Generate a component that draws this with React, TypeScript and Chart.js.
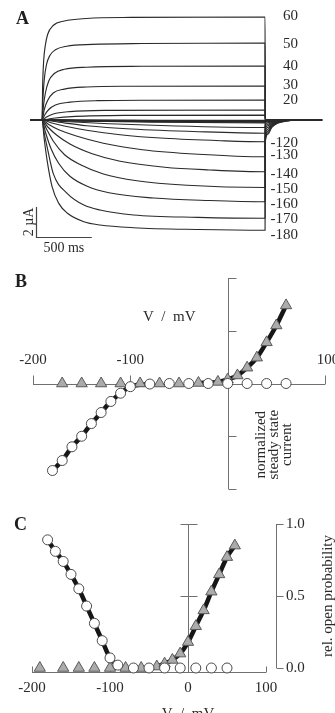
import React, { useEffect, useRef } from "react";
import { Chart, registerables } from "chart.js";

Chart.register(...registerables);

const SERIF = '"Liberation Serif", "Times New Roman", serif';
const INK = "#2a2a2a";
const AXIS = "#707070";

// ---------------- Panel A : current traces (time ms, current µA) ----------------
const tP60 = [[0, 0], [6, 2.5], [15, 4.0], [30, 5.0], [50, 5.7], [100, 6.3], [200, 6.6], [400, 6.77], [800, 6.84], [2000, 6.87]];
const tP50 = [[0, 0], [8, 1.4], [20, 2.7], [40, 3.7], [70, 4.3], [120, 4.68], [220, 4.92], [450, 5.04], [900, 5.1], [2000, 5.13]];
const tP40 = [[0, 0], [12, 0.9], [30, 1.8], [60, 2.6], [110, 3.1], [200, 3.38], [400, 3.52], [900, 3.58], [2000, 3.6]];
const tP30 = [[0, 0], [20, 0.7], [50, 1.3], [100, 1.8], [200, 2.06], [400, 2.2], [800, 2.25], [2000, 2.27]];
const tP20 = [[0, 0], [25, 0.35], [60, 0.7], [120, 1.0], [250, 1.19], [500, 1.29], [1000, 1.32], [2000, 1.33]];
const tP10 = [[0, 0], [40, 0.2], [100, 0.4], [250, 0.56], [600, 0.64], [2000, 0.67]];
const tP0 = [[0, 0], [100, 0.12], [300, 0.24], [800, 0.31], [2000, 0.33]];
const tM10 = [[0, 0], [400, -0.01], [1000, -0.015], [2000, -0.02]];
const tM20 = [[0, 0], [400, -0.02], [1000, -0.03], [2000, -0.04]];
const tM30 = [[0, 0], [400, -0.025], [1000, -0.04], [2000, -0.05]];
const tM40 = [[0, 0], [400, -0.035], [1000, -0.055], [2000, -0.07]];
const tM50 = [[0, 0], [400, -0.04], [1000, -0.065], [2000, -0.08]];
const tM60 = [[0, 0], [400, -0.05], [1000, -0.08], [2000, -0.1]];
const tM70 = [[0, 0], [400, -0.06], [1000, -0.095], [2000, -0.12]];
const tM80 = [[0, 0], [300, -0.05], [1000, -0.11], [2000, -0.15]];
const tM90 = [[0, 0], [300, -0.06], [1000, -0.14], [2000, -0.2]];
const tM100 = [[0, 0], [200, -0.1], [600, -0.25], [1200, -0.4], [2000, -0.5]];
const tM110 = [[0, 0], [150, -0.15], [400, -0.38], [800, -0.6], [1400, -0.78], [2000, -0.88]];
const tM120 = [[0, 0], [80, -0.18], [200, -0.4], [400, -0.68], [700, -0.98], [1100, -1.22], [1600, -1.38], [2000, -1.45]];
const tM130 = [[0, 0], [60, -0.3], [150, -0.65], [300, -1.05], [550, -1.55], [900, -1.98], [1400, -2.28], [2000, -2.45]];
const tM140 = [[0, 0], [50, -0.45], [130, -1.0], [250, -1.6], [450, -2.25], [700, -2.75], [1100, -3.15], [1500, -3.33], [2000, -3.45]];
const tM150 = [[0, 0], [40, -0.6], [100, -1.4], [200, -2.3], [350, -3.0], [550, -3.6], [850, -4.05], [1300, -4.35], [2000, -4.5]];
const tM160 = [[0, 0], [30, -0.8], [80, -1.9], [150, -2.9], [250, -3.75], [400, -4.4], [600, -4.85], [1000, -5.2], [1500, -5.37], [2000, -5.45]];
const tM170 = [[0, 0], [20, -0.9], [45, -1.78], [100, -3.56], [225, -4.89], [375, -5.67], [520, -6.0], [820, -6.33], [1400, -6.49], [2000, -6.55]];
const tM180 = [[0, 0], [20, -1.3], [45, -2.67], [90, -4.44], [150, -5.56], [225, -6.2], [375, -6.78], [520, -7.0], [820, -7.18], [1400, -7.3], [2000, -7.35]];

// tail currents after the end of the step
const tailZero = [[2001, 0]];
const tailM10 = [[2001, -0.02], [2060, -0.01], [2200, 0]];
const tailM50 = [[2001, -0.05], [2060, -0.02], [2200, 0]];
const tailM90 = [[2001, -0.1], [2040, -0.06], [2100, -0.03], [2250, 0]];
const tailM100 = [[2001, -0.18], [2025, -0.11], [2060, -0.06], [2110, -0.03], [2300, 0]];
const tailM110 = [[2001, -0.3], [2025, -0.19], [2060, -0.1], [2110, -0.04], [2200, -0.01], [2350, 0]];
const tailM120 = [[2001, -0.45], [2025, -0.28], [2060, -0.15], [2110, -0.06], [2200, -0.02], [2350, 0]];
const tailM130 = [[2001, -0.62], [2025, -0.38], [2060, -0.2], [2110, -0.09], [2200, -0.02], [2350, 0]];
const tailM140 = [[2001, -0.8], [2025, -0.5], [2060, -0.26], [2110, -0.11], [2200, -0.03], [2350, 0]];
const tailM150 = [[2001, -1.0], [2025, -0.62], [2060, -0.32], [2110, -0.14], [2200, -0.04], [2350, 0]];
const tailM160 = [[2001, -1.2], [2025, -0.74], [2060, -0.39], [2110, -0.17], [2200, -0.04], [2350, 0]];
const tailM170 = [[2001, -1.4], [2025, -0.86], [2060, -0.45], [2110, -0.2], [2200, -0.05], [2350, 0]];
const tailM180 = [[2001, -1.55], [2025, -0.95], [2060, -0.5], [2110, -0.22], [2200, -0.06], [2350, 0]];

const traceSteps = [tP60, tP50, tP40, tP30, tP20, tP10, tP0, tM10, tM20, tM30, tM40, tM50, tM60, tM70, tM80, tM90, tM100, tM110, tM120, tM130, tM140, tM150, tM160, tM170, tM180];
const traceTails = [tailZero, tailZero, tailZero, tailZero, tailZero, tailZero, tailZero, tailM10, tailM10, tailM10, tailM50, tailM50, tailM50, tailM50, tailM90, tailM90, tailM100, tailM110, tailM120, tailM130, tailM140, tailM150, tailM160, tailM170, tailM180];

const holdStart = -108;
const recordEnd = 2511;
const stepEnd = 2000;

const labelVolts = [60, 50, 40, 30, 20, -120, -130, -140, -150, -160, -170, -180];
const labelLevels = [6.95, 5.07, 3.6, 2.33, 1.33, -1.55, -2.33, -3.6, -4.6, -5.6, -6.6, -7.67];

const scaleBarTime = 500; // ms
const scaleBarCurrent = 2; // µA
const scaleBarOrigin = [-54, -7.8];

// ---------------- Panel B : normalized steady state current ----------------
const bCircV = [-180, -170, -160, -150, -140, -130, -120, -110, -100, -80, -60, -40, -20, 0, 20, 40, 60];
const bCircI = [-0.825, -0.73, -0.6, -0.5, -0.38, -0.275, -0.17, -0.092, -0.03, -0.005, 0, 0, 0, 0, 0, 0, 0];
const bTriV = [-170, -150, -130, -110, -90, -70, -50, -30, -10, 0, 10, 20, 30, 40, 50, 60];
const bTriI = [0, 0, 0, 0, 0, 0, 0, 0.005, 0.015, 0.038, 0.076, 0.15, 0.245, 0.39, 0.55, 0.74];
const bXTicks = [-200, -100, 0, 100];
const bXLabels = ["-200", "-100", "", "100"];
const bYTicks = [1, 0.5, -0.5, -1];

// ---------------- Panel C : relative open probability ----------------
const cCircV = [-180, -170, -160, -150, -140, -130, -120, -110, -100, -90, -70, -50, -30, -10, 10, 30, 50];
const cCircP = [0.89, 0.81, 0.74, 0.65, 0.55, 0.43, 0.31, 0.19, 0.07, 0.02, 0, 0, 0, 0, 0, 0, 0];
const cTriV = [-190, -160, -140, -120, -100, -80, -60, -40, -30, -20, -10, 0, 10, 20, 30, 40, 50, 60];
const cTriP = [0, 0, 0, 0, 0, 0, 0, 0.01, 0.03, 0.056, 0.1, 0.18, 0.29, 0.4, 0.53, 0.65, 0.77, 0.85];
const cXTicks = [-200, -100, 0, 100];
const cXLabels = ["-200", "-100", "0", "100"];
const cYTicks = [0, 0.5, 1];
const cYLabels = ["0.0", "0.5", "1.0"];

// ---------------- helpers ----------------
const pts = (xs: number[], ys: number[]) => xs.map((x, i) => ({ x, y: ys[i] }));

function baseOptions(padding: any, xr: number[], yr: number[]) {
  return {
    responsive: false,
    animation: false,
    events: [],
    layout: { padding },
    plugins: { legend: { display: false }, tooltip: { enabled: false }, title: { display: false } },
    scales: {
      x: { type: "linear", display: false, min: xr[0], max: xr[1] },
      y: { type: "linear", display: false, min: yr[0], max: yr[1] },
    },
  };
}

const circleSet = (data: any[], order: number) => ({
  data,
  showLine: false,
  pointStyle: "circle",
  pointRadius: 5,
  pointBackgroundColor: "#ffffff",
  pointBorderColor: "#4a4a4a",
  pointBorderWidth: 1,
  clip: false,
  order,
});
const triangleSet = (data: any[], order: number) => ({
  data,
  showLine: false,
  pointStyle: "triangle",
  pointRadius: 6.5,
  pointBackgroundColor: "#ababab",
  pointBorderColor: "#5a5a5a",
  pointBorderWidth: 1,
  clip: false,
  order,
});
const fitSet = (data: any[], order: number) => ({
  data,
  borderColor: "#161616",
  borderWidth: 4.5,
  pointRadius: 0,
  cubicInterpolationMode: "monotone",
  clip: false,
  order,
});

function text(ctx: any, s: string, x: number, y: number, align = "center", base = "middle", size = 15) {
  ctx.font = `${size}px ${SERIF}`;
  ctx.fillStyle = INK;
  ctx.textAlign = align;
  ctx.textBaseline = base;
  ctx.fillText(s, x, y);
}
function rotText(ctx: any, lines: string[], cx: number, cy: number, lh: number, size = 15) {
  ctx.save();
  ctx.translate(cx, cy);
  ctx.rotate(-Math.PI / 2);
  ctx.font = `${size}px ${SERIF}`;
  ctx.fillStyle = INK;
  ctx.textAlign = "center";
  ctx.textBaseline = "middle";
  const off = ((lines.length - 1) * lh) / 2;
  lines.forEach((l, i) => ctx.fillText(l, 0, i * lh - off));
  ctx.restore();
}
const r5 = (v: number) => Math.round(v) + 0.5;

// ---------------- configs ----------------
function configA() {
  const datasets = traceSteps.map((steps, i) => ({
    data: [[holdStart, 0], ...steps, ...traceTails[i], [recordEnd, 0]].map(([x, y]) => ({ x, y })),
    borderColor: INK,
    borderWidth: 1.15,
    pointRadius: 0,
    cubicInterpolationMode: "monotone",
    clip: false,
  }));
  const plugin = {
    id: "annA",
    afterDraw(chart: any) {
      const { ctx, scales } = chart;
      const x = scales.x;
      const y = scales.y;
      ctx.save();
      const xr = x.getPixelForValue(stepEnd) + 33;
      labelVolts.forEach((v, i) => text(ctx, String(v), xr, y.getPixelForValue(labelLevels[i]), "right", "middle", 15));
      // scale bar
      const bx = x.getPixelForValue(scaleBarOrigin[0]);
      const by = y.getPixelForValue(scaleBarOrigin[1]);
      const bt = y.getPixelForValue(scaleBarOrigin[1] + scaleBarCurrent);
      const br = x.getPixelForValue(scaleBarOrigin[0] + scaleBarTime);
      ctx.strokeStyle = "#444";
      ctx.lineWidth = 1.2;
      ctx.beginPath();
      ctx.moveTo(r5(bx), bt);
      ctx.lineTo(r5(bx), r5(by));
      ctx.lineTo(br, r5(by));
      ctx.stroke();
      rotText(ctx, ["2 µA"], bx - 7, (by + bt) / 2, 14, 14);
      text(ctx, "500 ms", (bx + br) / 2, by + 11, "center", "middle", 14);
      ctx.restore();
    },
  };
  return {
    type: "line",
    data: { datasets },
    options: baseOptions({ left: 0, right: 0, top: 0, bottom: 0 }, [-377, 2627], [-9.2, 8]),
    plugins: [plugin],
  };
}

function configB() {
  const circ = pts(bCircV, bCircI);
  const tri = pts(bTriV, bTriI);
  const datasets = [
    circleSet(circ, 0),
    triangleSet(tri, 1),
    fitSet(circ.filter((p) => p.x <= -80), 2),
    fitSet(tri.filter((p) => p.x >= -30), 3),
  ];
  const plugin = {
    id: "axesB",
    beforeDatasetsDraw(chart: any) {
      const { ctx, scales } = chart;
      const x = scales.x;
      const y = scales.y;
      const y0 = r5(y.getPixelForValue(0));
      const x0 = r5(x.getPixelForValue(0));
      ctx.save();
      ctx.strokeStyle = AXIS;
      ctx.lineWidth = 1;
      ctx.beginPath();
      ctx.moveTo(x.getPixelForValue(bXTicks[0]), y0);
      ctx.lineTo(x.getPixelForValue(bXTicks[bXTicks.length - 1]), y0);
      bXTicks.forEach((v) => {
        if (v === 0) return;
        const px = r5(x.getPixelForValue(v));
        ctx.moveTo(px, y0);
        ctx.lineTo(px, y0 - 9);
      });
      ctx.moveTo(x0, y.getPixelForValue(1));
      ctx.lineTo(x0, y.getPixelForValue(-1));
      bYTicks.forEach((v) => {
        const py = r5(y.getPixelForValue(v));
        ctx.moveTo(x0, py);
        ctx.lineTo(x0 + 8, py);
      });
      ctx.stroke();
      ctx.restore();
    },
    afterDraw(chart: any) {
      const { ctx, scales } = chart;
      const x = scales.x;
      const y = scales.y;
      const y0 = y.getPixelForValue(0);
      const x0 = x.getPixelForValue(0);
      ctx.save();
      bXTicks.forEach((v, i) => {
        if (bXLabels[i]) text(ctx, bXLabels[i], x.getPixelForValue(v) + (v === 100 ? 3 : 0), y0 - 23);
      });
      text(ctx, "V  /  mV", x.getPixelForValue(-60), y0 - 66);
      rotText(ctx, ["normalized", "steady state", "current"], x0 + 46, y.getPixelForValue(-0.58), 13, 15);
      ctx.restore();
    },
  };
  return {
    type: "line",
    data: { datasets },
    options: baseOptions({ left: 33, right: 10, top: 18, bottom: 11 }, [-200, 100], [-1, 1]),
    plugins: [plugin],
  };
}

function configC() {
  const circ = pts(cCircV, cCircP);
  const tri = pts(cTriV, cTriP);
  const datasets = [
    circleSet(circ, 0),
    triangleSet(tri, 1),
    fitSet(circ.filter((p) => p.x <= -90), 2),
    fitSet(tri.filter((p) => p.x >= -40), 3),
  ];
  const plugin = {
    id: "axesC",
    beforeDatasetsDraw(chart: any) {
      const { ctx, scales, chartArea } = chart;
      const x = scales.x;
      const y = scales.y;
      const yb = r5(chartArea.bottom);
      const x0 = r5(x.getPixelForValue(0));
      const xr = r5(chartArea.right + 10);
      ctx.save();
      ctx.strokeStyle = AXIS;
      ctx.lineWidth = 1;
      ctx.beginPath();
      ctx.moveTo(x.getPixelForValue(cXTicks[0]), yb);
      ctx.lineTo(x.getPixelForValue(cXTicks[cXTicks.length - 1]), yb);
      cXTicks.forEach((v) => {
        if (v === 0) return;
        const px = r5(x.getPixelForValue(v));
        ctx.moveTo(px, yb);
        ctx.lineTo(px, yb - 6);
      });
      ctx.moveTo(x0, y.getPixelForValue(1));
      ctx.lineTo(x0, yb);
      [1, 0.5].forEach((v) => {
        const py = r5(y.getPixelForValue(v));
        ctx.moveTo(x0 - 8, py);
        ctx.lineTo(x0 + 9, py);
      });
      ctx.moveTo(xr, y.getPixelForValue(1));
      ctx.lineTo(xr, y.getPixelForValue(0));
      cYTicks.forEach((v) => {
        const py = r5(y.getPixelForValue(v));
        ctx.moveTo(xr, py);
        ctx.lineTo(xr + 7, py);
      });
      ctx.stroke();
      ctx.restore();
    },
    afterDraw(chart: any) {
      const { ctx, scales, chartArea } = chart;
      const x = scales.x;
      const y = scales.y;
      const yb = chartArea.bottom;
      const xr = chartArea.right + 10;
      ctx.save();
      cXTicks.forEach((v, i) => text(ctx, cXLabels[i], x.getPixelForValue(v), yb + 16));
      text(ctx, "V  /  mV", x.getPixelForValue(0), yb + 35, "center", "top");
      cYTicks.forEach((v, i) => text(ctx, cYLabels[i], xr + 10, y.getPixelForValue(v), "left"));
      rotText(ctx, ["rel. open probability"], xr + 52, y.getPixelForValue(0.5), 14, 15);
      ctx.restore();
    },
  };
  return {
    type: "line",
    data: { datasets },
    options: baseOptions({ left: 32, right: 69, top: 24, bottom: 41 }, [-200, 100], [-0.0278, 1]),
    plugins: [plugin],
  };
}

const letter: any = {
  position: "absolute",
  font: `bold 18px ${SERIF}`,
  lineHeight: "18px",
  color: "#1e1e1e",
};

export default function App() {
  const refA = useRef<HTMLCanvasElement>(null);
  const refB = useRef<HTMLCanvasElement>(null);
  const refC = useRef<HTMLCanvasElement>(null);

  useEffect(() => {
    const charts = [
      new Chart(refA.current as any, configA() as any),
      new Chart(refB.current as any, configB() as any),
      new Chart(refC.current as any, configC() as any),
    ];
    return () => charts.forEach((c) => c.destroy());
  }, []);

  return (
    <div style={{ position: "absolute", left: 0, top: 0, width: 335, height: 713, background: "#fff", overflow: "hidden" }}>
      <canvas ref={refA} width={335} height={258} style={{ position: "absolute", left: 0, top: 0 }} />
      <canvas ref={refB} width={335} height={240} style={{ position: "absolute", left: 0, top: 260 }} />
      <canvas ref={refC} width={335} height={213} style={{ position: "absolute", left: 0, top: 500 }} />
      <div style={{ ...letter, left: 16, top: 9 }}>A</div>
      <div style={{ ...letter, left: 15, top: 272 }}>B</div>
      <div style={{ ...letter, left: 14, top: 515 }}>C</div>
    </div>
  );
}
